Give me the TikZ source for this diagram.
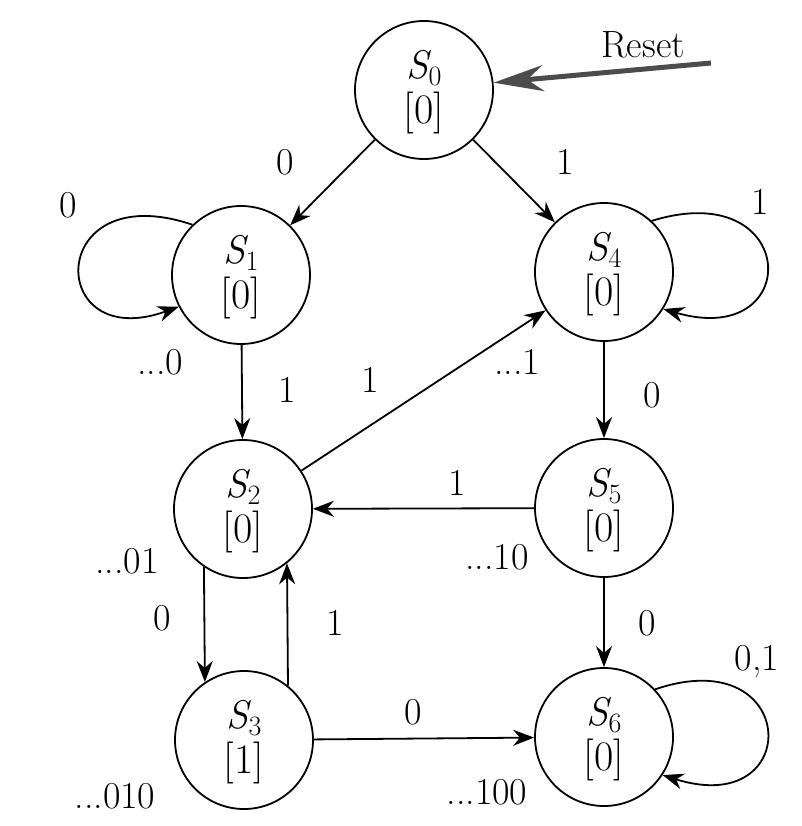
\documentclass[tikz,border=0pt]{standalone}
\usepackage{fontspec}
\usetikzlibrary{arrows.meta}
\tikzset{
  state/.style={circle,draw,line width=1.8pt,minimum size=138pt,inner sep=0pt},
  lab/.style={font=\fontsize{38}{44}\selectfont,inner sep=0pt},
  sname/.style={font=\fontsize{40}{44}\selectfont,inner sep=0pt},
  sout/.style={font=\fontsize{42}{46}\selectfont,inner sep=0pt},
  edge/.style={line width=1.8pt,-{Stealth[length=21pt,width=16pt]}},
  resetarrow/.style={line width=5pt,draw=black!70,-{Stealth[length=50pt,width=26pt]}}
}
\newcommand\mystate[5]{%
  \node[state] (#1) at (#2,#3) {};
  \node[sname] (#1n) at ([yshift=22pt]#1.center) {{\itshape S}\raisebox{-7pt}{\fontsize{28}{30}\selectfont #4}};
  \node[sout] (#1o) at ([yshift=-23pt]#1.center) {[#5]};
}
\begin{document}
\begin{tikzpicture}[x=1pt,y=-1pt]
\useasboundingbox[fill=white] (0,0) rectangle (801,826);
\mystate{S0}{424}{90}{0}{0}
\mystate{S1}{241}{275}{1}{0}
\mystate{S4}{604}{272}{4}{0}
\mystate{S2}{243}{509}{2}{0}
\mystate{S5}{604}{508}{5}{0}
\mystate{S3}{244}{740}{3}{1}
\mystate{S6}{604}{737}{6}{0}
% reset
\coordinate (rs) at (711,63);
\draw[resetarrow] (rs) -- (S0.6);
\node[lab] (rst) at (643,45) {Reset};
% edges
\draw[edge] (S0) -- (S1);
\draw[edge] (S0) -- (S4);
\draw[edge] (S1) -- (S2);
\draw[edge] (S2) -- (S4);
\draw[edge] (S4) -- (S5);
\draw[edge] (S5) -- (S2);
\draw[edge] (S5) -- (S6);
\draw[edge] (S3) -- (S6);
\draw[edge] (S2.236) -- (S3.124);
\draw[edge] (S3.51) -- (S2.309);
% loops
\draw[edge] (S1.134) .. controls (45,175) and (45,355) .. (S1.207);
\draw[edge] (S4.47) .. controls (800,175) and (805,350) .. (S4.328);
\draw[edge] (S6.43) .. controls (800,640) and (805,820) .. (S6.327);
% labels
\node[lab] (l01) at (285,162) {0};
\node[lab] (l04) at (565,162) {1};
\node[lab] (l11) at (68,205) {0};
\node[lab] (h1) at (160,362) {...0};
\node[lab] (l12) at (287,390) {1};
\node[lab] (l24) at (370,380) {1};
\node[lab] (h4) at (517,362) {...1};
\node[lab] (l44) at (760,202) {1};
\node[lab] (l45) at (652,395) {0};
\node[lab] (l52) at (457,483) {1};
\node[lab] (h5) at (497,557) {...10};
\node[lab] (h2) at (127,561) {...01};
\node[lab] (l23) at (162,618) {0};
\node[lab] (l32) at (335,623) {1};
\node[lab] (l56) at (647,623) {0};
\node[lab] (l66) at (757,662) {0,1};
\node[lab] (l36) at (413,712) {0};
\node[lab] (h3) at (115,796) {...010};
\node[lab] (h6) at (487,792) {...100};
\end{tikzpicture}
\end{document}
